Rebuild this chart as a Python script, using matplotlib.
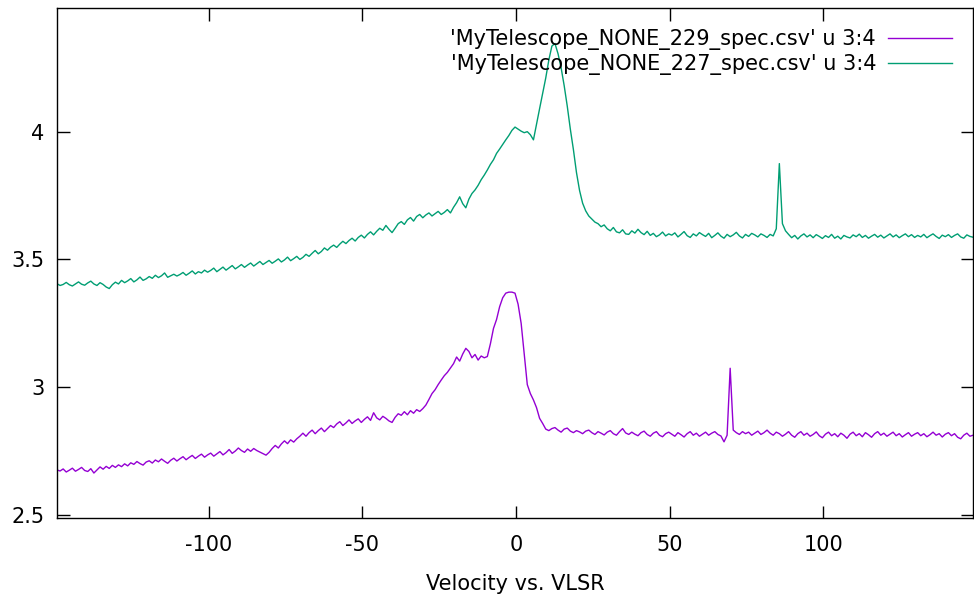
import numpy as np
import matplotlib
matplotlib.use("Agg")
import matplotlib.pyplot as plt

plt.rcParams["axes.unicode_minus"] = False

# velocity channels (km/s)
v_start = -149.3
v_step = 1.0

# 'MyTelescope_NONE_227_spec.csv' u 3:4
spec_227 = [
    3.405, 3.398, 3.402, 3.410, 3.401, 3.396, 3.404, 3.412, 3.403, 3.399,
    3.408, 3.415, 3.404, 3.398, 3.409, 3.402, 3.392, 3.386, 3.401, 3.411,
    3.404, 3.418, 3.409, 3.416, 3.425, 3.412, 3.420, 3.431, 3.418, 3.424,
    3.433, 3.426, 3.438, 3.429, 3.436, 3.447, 3.430, 3.436, 3.442, 3.435,
    3.441, 3.449, 3.438, 3.446, 3.455, 3.443, 3.452, 3.447, 3.458, 3.450,
    3.457, 3.466, 3.452, 3.461, 3.470, 3.458, 3.467, 3.476, 3.463, 3.471,
    3.480, 3.469, 3.478, 3.486, 3.474, 3.483, 3.492, 3.480, 3.488, 3.496,
    3.485, 3.493, 3.502, 3.490, 3.498, 3.509, 3.495, 3.503, 3.512, 3.500,
    3.508, 3.520, 3.512, 3.524, 3.535, 3.522, 3.531, 3.545, 3.536, 3.548,
    3.556, 3.547, 3.560, 3.571, 3.562, 3.574, 3.583, 3.572, 3.586, 3.595,
    3.584, 3.598, 3.608, 3.596, 3.610, 3.622, 3.614, 3.633, 3.618, 3.605,
    3.622, 3.640, 3.648, 3.637, 3.655, 3.664, 3.650, 3.668, 3.676, 3.663,
    3.674, 3.682, 3.670, 3.679, 3.688, 3.676, 3.684, 3.695, 3.682, 3.704,
    3.722, 3.745, 3.718, 3.702, 3.736, 3.758, 3.772, 3.790, 3.812, 3.830,
    3.850, 3.872, 3.890, 3.915, 3.932, 3.950, 3.968, 3.985, 4.005, 4.018,
    4.010, 4.002, 3.996, 4.000, 3.988, 3.968, 4.030, 4.090, 4.150, 4.210,
    4.280, 4.335, 4.345, 4.305, 4.250, 4.180, 4.100, 4.010, 3.930, 3.840,
    3.770, 3.720, 3.690, 3.670, 3.658, 3.646, 3.640, 3.628, 3.635, 3.620,
    3.612, 3.625, 3.608, 3.604, 3.616, 3.600, 3.598, 3.612, 3.603, 3.618,
    3.605, 3.597, 3.610, 3.594, 3.602, 3.589, 3.596, 3.607, 3.592, 3.600,
    3.595, 3.604, 3.588, 3.598, 3.609, 3.593, 3.586, 3.600, 3.592, 3.605,
    3.597, 3.590, 3.602, 3.585, 3.594, 3.604, 3.591, 3.583, 3.598, 3.589,
    3.596, 3.606, 3.592, 3.584, 3.598, 3.590, 3.602, 3.596, 3.588, 3.600,
    3.594, 3.586, 3.598, 3.592, 3.620, 3.875, 3.640, 3.612, 3.598, 3.585,
    3.594, 3.580, 3.592, 3.600, 3.588, 3.596, 3.585, 3.597, 3.590, 3.582,
    3.593, 3.586, 3.598, 3.583, 3.591, 3.580, 3.594, 3.588, 3.584, 3.596,
    3.589, 3.599, 3.586, 3.594, 3.583, 3.591, 3.598, 3.587, 3.595, 3.584,
    3.592, 3.600, 3.588, 3.596, 3.585, 3.593, 3.600, 3.589, 3.597, 3.586,
    3.594, 3.588, 3.598, 3.585, 3.593, 3.600, 3.590, 3.582, 3.595, 3.589,
    3.597, 3.586, 3.594, 3.600, 3.588, 3.583, 3.596, 3.590, 3.587,
]

# 'MyTelescope_NONE_229_spec.csv' u 3:4
spec_229 = [
    2.676, 2.672, 2.680, 2.668, 2.675, 2.683, 2.671, 2.678, 2.686, 2.674,
    2.670, 2.681, 2.664, 2.676, 2.688, 2.679, 2.690, 2.682, 2.694, 2.686,
    2.696, 2.689, 2.700, 2.692, 2.704, 2.698, 2.709, 2.701, 2.695, 2.707,
    2.712, 2.703, 2.715, 2.708, 2.719, 2.710, 2.702, 2.714, 2.722, 2.711,
    2.720, 2.728, 2.716, 2.725, 2.733, 2.721, 2.730, 2.738, 2.726, 2.735,
    2.742, 2.730, 2.739, 2.748, 2.735, 2.744, 2.756, 2.741, 2.750, 2.762,
    2.752, 2.745, 2.758, 2.749, 2.760, 2.752, 2.746, 2.740, 2.734, 2.745,
    2.760, 2.772, 2.762, 2.778, 2.790, 2.779, 2.794, 2.785, 2.798, 2.808,
    2.820, 2.808, 2.822, 2.832, 2.818, 2.830, 2.840, 2.826, 2.838, 2.850,
    2.842, 2.856, 2.865, 2.850, 2.860, 2.872, 2.858, 2.868, 2.876, 2.862,
    2.874, 2.884, 2.870, 2.900, 2.880, 2.872, 2.886, 2.878, 2.868, 2.862,
    2.882, 2.896, 2.890, 2.904, 2.892, 2.908, 2.898, 2.912, 2.905, 2.916,
    2.930, 2.952, 2.975, 2.990, 3.010, 3.028, 3.045, 3.058, 3.075, 3.092,
    3.118, 3.102, 3.130, 3.152, 3.140, 3.115, 3.128, 3.106, 3.122, 3.115,
    3.120, 3.170, 3.230, 3.265, 3.315, 3.350, 3.368, 3.372, 3.372, 3.368,
    3.325, 3.250, 3.130, 3.010, 2.975, 2.950, 2.920, 2.878, 2.858, 2.836,
    2.830, 2.838, 2.842, 2.832, 2.824, 2.836, 2.840, 2.828, 2.822, 2.830,
    2.825, 2.818, 2.828, 2.832, 2.822, 2.815, 2.826, 2.820, 2.813, 2.824,
    2.830, 2.818, 2.812, 2.826, 2.838, 2.821, 2.815, 2.824, 2.816, 2.810,
    2.822, 2.828, 2.815, 2.808, 2.820, 2.826, 2.812, 2.806, 2.818, 2.824,
    2.816, 2.808, 2.822, 2.814, 2.805, 2.818, 2.826, 2.812, 2.820, 2.808,
    2.816, 2.824, 2.812, 2.820, 2.826, 2.815, 2.809, 2.786, 2.812, 3.074,
    2.832, 2.822, 2.815, 2.826, 2.818, 2.824, 2.812, 2.820, 2.828, 2.815,
    2.822, 2.832, 2.820, 2.812, 2.824, 2.818, 2.808, 2.816, 2.826, 2.812,
    2.804, 2.818, 2.826, 2.812, 2.820, 2.808, 2.815, 2.825, 2.810, 2.802,
    2.816, 2.824, 2.810, 2.818, 2.806, 2.820, 2.812, 2.800, 2.816, 2.824,
    2.810, 2.818, 2.806, 2.822, 2.814, 2.804, 2.818, 2.826, 2.812, 2.820,
    2.808, 2.816, 2.824, 2.810, 2.818, 2.805, 2.814, 2.822, 2.808, 2.816,
    2.822, 2.810, 2.818, 2.806, 2.814, 2.824, 2.812, 2.818, 2.805, 2.816,
    2.822, 2.810, 2.818, 2.804, 2.798, 2.812, 2.820, 2.808, 2.812,
]

vel = v_start + v_step * np.arange(len(spec_227))

fig = plt.figure(figsize=(9.74, 6.06), dpi=100)
ax = fig.add_axes([57 / 974, 1 - 518 / 606, 916 / 974, 510 / 606])

ax.plot(vel, spec_229, color="#9400d3", lw=1.0,
        label="'MyTelescope_NONE_229_spec.csv' u 3:4")
ax.plot(vel, spec_227, color="#009e73", lw=1.0,
        label="'MyTelescope_NONE_227_spec.csv' u 3:4")

ax.set_xlim(vel[0], vel[-1])
ax.set_ylim(2.488, 4.484)
ax.set_xticks([-100, -50, 0, 50, 100])
ax.set_yticks([2.5, 3, 3.5, 4])
ax.set_yticklabels(["2.5", "3", "3.5", "4"])
ax.tick_params(direction="in", length=9, width=1, top=True, right=True,
               labelsize=15, colors="black")
ax.tick_params(axis="x", pad=12)
ax.tick_params(axis="y", pad=9)
for s in ax.spines.values():
    s.set_linewidth(1.0)

ax.set_xlabel("Velocity vs. VLSR", fontsize=15, labelpad=14)

ax.legend(loc="upper right", markerfirst=False, frameon=False, fontsize=15,
          handlelength=3.1, handletextpad=0.55, labelspacing=0.2,
          borderpad=0.3, borderaxespad=0.7, bbox_to_anchor=(1.0, 1.0))

fig.savefig("out.png", dpi=100)
